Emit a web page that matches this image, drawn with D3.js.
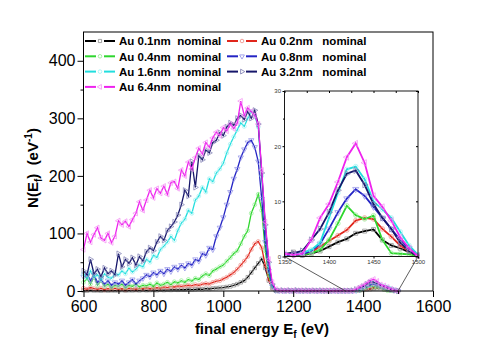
<!DOCTYPE html>
<html>
<head>
<meta charset="utf-8">
<script src="https://d3js.org/d3.v7.min.js"></script>
<style>
  body { margin: 0; background: #fff; }
  text { font-family: "Liberation Sans", Arial, sans-serif; }
</style>
</head>
<body>
<script>
// final energy grid (eV)
var energy = [600,610,620,630,640,650,660,670,680,690,
  700,710,720,730,740,750,760,770,780,790,
  800,810,820,830,840,850,860,870,880,890,
  900,910,920,930,940,950,960,970,980,990,
  1000,1010,1020,1030,1040,1050,1060,1070,1080,1090,
  1100,1110,1120,1130,1140,1150,
  1160,1170,1180,1190,1200,1210,1220,1230,1240,1250,
  1260,1270,1280,1290,1300,1310,1320,1330,1340,
  1350,1360,1370,1380,1390,1400,1410,1420,1430,1440,
  1450,1460,1470,1480,1490,1500];

// N(Ef) for each nominal Au thickness
var au01 = [1,0.5,1.5,0.8,1,0.5,1.2,0.6,1,0.8,
  1,1.5,0.8,1.2,1,1.5,1,1.8,1.2,1.5,
  1.8,1.2,2,1.5,2,1.8,2.5,2,2.5,2.2,
  3,2.5,3,3.5,3,4,3.5,4.5,5,5.5,
  6,7,8,10,12,15,18,24,32,40,
  48,56,40,18,5,1,
  0.5,0.3,0.6,0.2,0.4,0.3,0.5,0.2,0.4,0.3,
  0.5,0.2,0.4,0.3,0.2,0.4,0.3,0.2,0.3,
  0.3,0.8,0.2,0.5,1,1.8,2.6,3.2,4.2,4.6,
  4.9,3,2,1.5,0.8,0];
var au02 = [5,3,6,4,3,5,2,4,3,5,
  3,4,2,5,4,3,5,4,6,4,
  5,6,5,7,6,8,7,9,8,9,
  10,9,11,10,12,13,12,15,17,18,
  21,24,28,32,38,45,52,60,72,82,
  86,75,45,20,5,1,
  0.6,0.3,0.5,0.4,0.2,0.5,0.3,0.4,0.2,0.5,
  0.3,0.4,0.2,0.3,0.5,0.2,0.4,0.3,0.2,
  0.2,0.2,0.3,0.8,1.8,2.8,3.8,4.8,6.5,7,
  6.8,5,3.6,2,1,0];
var au04 = [15,22,12,25,10,18,8,12,6,10,
  8,12,6,10,8,12,7,10,9,12,
  8,14,10,12,15,11,16,14,18,15,
  20,17,22,20,26,30,27,35,38,42,
  45,52,58,65,70,82,95,105,135,150,
  168,140,70,28,6,1,
  0.5,0.8,0.3,0.6,0.4,0.7,0.3,0.5,0.6,0.3,
  0.5,0.4,0.2,0.5,0.3,0.4,0.2,0.3,0.2,
  0.2,0.3,0.3,0.6,1.2,3,6,9.2,7.5,6.8,
  7.4,3,0.6,0.5,0.4,0];
var au08 = [25,30,18,28,15,20,12,18,10,15,
  12,18,10,15,20,12,18,22,28,25,
  32,28,35,30,38,34,42,38,45,40,
  48,45,55,52,65,62,75,72,95,110,
  128,150,172,195,212,232,246,258,262,250,
  225,160,85,35,8,1,
  0.7,0.4,0.9,0.5,0.3,0.8,0.4,0.6,0.3,0.7,
  0.4,0.5,0.3,0.6,0.4,0.3,0.5,0.2,0.3,
  0.3,0.3,0.4,1,2.3,5,8,10.5,12.2,11,
  9,7,5,3,1.5,0.3];
var au16 = [30,22,35,25,28,20,30,24,22,30,
  28,35,30,40,33,38,45,42,55,50,
  62,58,72,78,85,95,88,105,118,125,
  140,135,158,165,180,172,195,190,205,212,
  222,240,255,268,280,292,286,300,312,305,
  285,200,110,45,10,2,
  0.8,0.5,1,0.6,0.4,0.9,0.5,0.7,0.4,0.8,
  0.5,0.6,0.4,0.7,0.5,0.4,0.6,0.3,0.4,
  0.5,0.4,0.7,1.2,2.5,7,11.5,15.8,16.3,14,
  10,8.5,7,4.5,2,0.3];
var au32 = [35,28,55,30,38,25,40,30,35,28,
  65,42,55,48,58,45,60,52,68,75,
  70,85,95,88,105,112,120,132,150,175,
  165,225,180,235,228,245,240,258,262,275,
  270,285,292,288,300,305,298,312,300,314,
  290,205,115,50,12,2,
  0.8,1.2,0.5,1,0.6,1.4,0.7,0.5,1,0.4,
  0.9,0.6,1.1,0.5,0.8,0.6,0.9,0.4,0.6,
  0.5,0.6,1,3,5,8,12,15,15.6,13,
  9.5,7,5,2.5,1,0];
var au64 = [72,100,85,98,110,92,88,100,84,95,
  122,115,121,112,124,135,155,140,158,175,
  162,178,170,182,168,188,190,178,210,200,
  224,212,232,248,238,258,250,266,276,270,
  284,278,290,282,292,330,305,318,312,305,
  290,210,120,55,15,3,
  1,0.5,1.2,0.4,0.8,0.3,1,0.6,0.4,0.9,
  0.5,0.3,0.8,0.5,0.7,0.4,0.6,0.3,0.5,
  0.5,0.3,0.5,3,7,9.5,13.5,18,20.5,17,
  11,9,6.5,3.5,1.5,0];

var seriesNames = ["Au 0.1nm  nominal", "Au 0.2nm   nominal", "Au 0.4nm  nominal", "Au 0.8nm   nominal",
  "Au 1.6nm  nominal", "Au 3.2nm   nominal", "Au 6.4nm  nominal"];
var seriesValues = [au01, au02, au04, au08, au16, au32, au64];
var lineColors = ["#000000", "#e0261c", "#2ed62e", "#2424c4", "#22dede", "#16166a", "#ee22ee"];
var markColors = ["#8c8c8c", "#ee8a84", "#92ec92", "#8c8ce6", "#9cf2f2", "#7a7ab0", "#f48cf4"];
// symbol type and rotation per series
var symbolTypes = [d3.symbolSquare, d3.symbolCircle, d3.symbolCircle, d3.symbolTriangle,
  d3.symbolCircle, d3.symbolTriangle, d3.symbolTriangle];
var symbolRot = [0, 0, 0, 180, 0, 90, -90];
// legend slots: [column, row]
var legendSlots = [[0,0],[1,0],[0,1],[1,1],[0,2],[1,2],[0,3]];

var xTicks = [600, 800, 1000, 1200, 1400, 1600];
var xMinor = [700, 900, 1100, 1300, 1500];
var yTicks = [0, 100, 200, 300, 400];
var yMinor = [50, 150, 250, 350];
var insetXTicks = [1350, 1400, 1450, 1500];
var insetXMinor = [1375, 1425, 1475];
var insetYTicks = [0, 10, 20, 30];
var insetYMinor = [5, 15, 25];

var svg = d3.select("body").append("svg")
  .attr("width", 480)
  .attr("height", 354);

var x = d3.scaleLinear().domain([600, 1600]).range([83.5, 433]);
var y = d3.scaleLinear().domain([0, 450]).range([291, 32]);

var series = seriesValues.map(function(vals, i) {
  return {
    name: seriesNames[i], color: lineColors[i], mark: markColors[i],
    sym: d3.symbol().type(symbolTypes[i]), rot: symbolRot[i],
    pts: vals.map(function(v, j) { return {e: energy[j], v: v}; })
  };
});

// main curves
var mainG = svg.append("g");
series.forEach(function(s) {
  var line = d3.line().x(function(d) { return x(d.e); }).y(function(d) { return y(d.v); });
  mainG.append("path").datum(s.pts)
    .attr("d", line)
    .attr("fill", "none")
    .attr("stroke", s.color)
    .attr("stroke-width", 1.3);
  mainG.selectAll(null).data(s.pts).enter().append("path")
    .attr("d", s.sym.size(12))
    .attr("transform", function(d) { return "translate(" + x(d.e) + "," + y(d.v) + ") rotate(" + s.rot + ")"; })
    .attr("fill", "none")
    .attr("stroke", s.mark)
    .attr("stroke-width", 0.7);
});

// frame and axes
svg.append("rect")
  .attr("x", 83.5).attr("y", 32)
  .attr("width", 433 - 83.5).attr("height", 291 - 32)
  .attr("fill", "none").attr("stroke", "#000").attr("stroke-width", 1);

var xAxis = svg.append("g").attr("transform", "translate(0,291)")
  .call(d3.axisBottom(x).tickValues(xTicks).tickSize(6).tickPadding(4).tickFormat(d3.format("d")));
svg.append("g").attr("transform", "translate(0,291)")
  .call(d3.axisBottom(x).tickValues(xMinor).tickSize(3).tickFormat(""));
var yAxis = svg.append("g").attr("transform", "translate(83.5,0)")
  .call(d3.axisLeft(y).tickValues(yTicks).tickSize(6).tickPadding(2));
svg.append("g").attr("transform", "translate(83.5,0)")
  .call(d3.axisLeft(y).tickValues(yMinor).tickSize(3).tickFormat(""));
svg.selectAll(".domain").remove();
svg.selectAll(".tick text").attr("font-size", 16).attr("fill", "#000")
  .style("font-family", "'Liberation Sans', Arial, sans-serif");

// axis titles
var xt = svg.append("text")
  .attr("x", 262).attr("y", 334)
  .attr("text-anchor", "middle")
  .attr("font-size", 15).attr("font-weight", "bold")
  .style("white-space", "pre");
xt.append("tspan").text("final energy E");
xt.append("tspan").attr("font-size", 10).attr("dy", 4).text("f");
xt.append("tspan").attr("dy", -4).text(" (eV)");

var yt = svg.append("text")
  .attr("transform", "translate(38,168) rotate(-90)")
  .attr("text-anchor", "middle")
  .attr("font-size", 15).attr("font-weight", "bold")
  .style("white-space", "pre");
yt.append("tspan").text("N(E");
yt.append("tspan").attr("font-size", 10).attr("dy", 4).text("f");
yt.append("tspan").attr("dy", -4).text(")  (eV");
yt.append("tspan").attr("font-size", 10).attr("dy", -6).text("-1");
yt.append("tspan").attr("dy", 6).text(")");

// legend
var legend = svg.append("g");
series.forEach(function(s, i) {
  var col = legendSlots[i][0], row = legendSlots[i][1];
  var lx = col === 0 ? 85 : 227;
  var ly = 41 + row * 15.3;
  var g = legend.append("g").attr("transform", "translate(" + lx + "," + ly + ")");
  g.append("line").attr("x1", 0).attr("x2", 11).attr("stroke", s.color).attr("stroke-width", 2);
  g.append("line").attr("x1", 19).attr("x2", 30).attr("stroke", s.color).attr("stroke-width", 2);
  g.append("path").attr("d", s.sym.size(10))
    .attr("transform", "translate(15,0) rotate(" + s.rot + ")")
    .attr("fill", "none").attr("stroke", s.mark).attr("stroke-width", 0.8);
  g.append("text").attr("x", 34).attr("y", 4.2)
    .attr("font-size", 11.5).attr("font-weight", "bold")
    .style("white-space", "pre")
    .text(s.name);
});

// inset
var xi = d3.scaleLinear().domain([1350, 1500]).range([284.5, 418]);
var yi = d3.scaleLinear().domain([0, 30]).range([256.5, 91]);

svg.append("line")
  .attr("x1", 284.5).attr("y1", 256.5).attr("x2", x(1350)).attr("y2", 291)
  .attr("stroke", "#333").attr("stroke-width", 0.8);
svg.append("line")
  .attr("x1", 418).attr("y1", 256.5).attr("x2", x(1500)).attr("y2", 291)
  .attr("stroke", "#333").attr("stroke-width", 0.8);

svg.append("rect")
  .attr("x", 284.5).attr("y", 91)
  .attr("width", 418 - 284.5).attr("height", 256.5 - 91)
  .attr("fill", "#fff");

svg.append("clipPath").attr("id", "insetClip")
  .append("rect")
  .attr("x", 284.5).attr("y", 88)
  .attr("width", 418 - 284.5 + 2).attr("height", 256.5 - 88 + 2);

var insetG = svg.append("g").attr("clip-path", "url(#insetClip)");
series.forEach(function(s) {
  var pts = s.pts.filter(function(d) { return d.e >= 1340 && d.e <= 1500; });
  var line = d3.line().x(function(d) { return xi(d.e); }).y(function(d) { return yi(d.v); });
  insetG.append("path").datum(pts)
    .attr("d", line)
    .attr("fill", "none")
    .attr("stroke", s.color)
    .attr("stroke-width", 1.8);
  insetG.selectAll(null).data(pts).enter().append("path")
    .attr("d", s.sym.size(16))
    .attr("transform", function(d) { return "translate(" + xi(d.e) + "," + yi(d.v) + ") rotate(" + s.rot + ")"; })
    .attr("fill", "none")
    .attr("stroke", s.mark)
    .attr("stroke-width", 0.7);
});

svg.append("rect")
  .attr("x", 284.5).attr("y", 91)
  .attr("width", 418 - 284.5).attr("height", 256.5 - 91)
  .attr("fill", "none").attr("stroke", "#000").attr("stroke-width", 0.9);

var ixAxis = svg.append("g").attr("transform", "translate(0,256.5)")
  .call(d3.axisBottom(xi).tickValues(insetXTicks).tickSize(2).tickPadding(1.5).tickFormat(d3.format("d")));
svg.append("g").attr("transform", "translate(0,91)")
  .call(d3.axisBottom(xi).tickValues(insetXTicks.concat(insetXMinor)).tickSize(2).tickFormat(""));
var iyAxis = svg.append("g").attr("transform", "translate(284.5,0)")
  .call(d3.axisLeft(yi).tickValues(insetYTicks).tickSize(2).tickPadding(1.5).tickFormat(d3.format("d")));
svg.append("g").attr("transform", "translate(284.5,0)")
  .call(d3.axisLeft(yi).tickValues(insetYMinor).tickSize(1.5).tickFormat(""));
svg.append("g").attr("transform", "translate(418,0)")
  .call(d3.axisLeft(yi).tickValues(insetYTicks).tickSize(2).tickFormat(""));
svg.selectAll(".domain").remove();
[ixAxis, iyAxis].forEach(function(a) {
  a.selectAll("text").attr("font-size", 6).attr("fill", "#333");
});
</script>
</body>
</html>
